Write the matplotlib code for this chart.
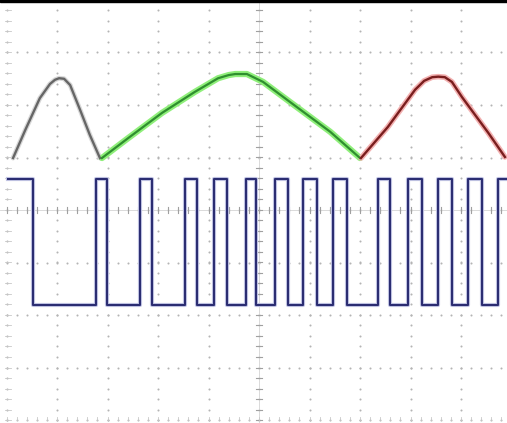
import matplotlib.pyplot as plt
import numpy as np

# oscilloscope screen, units = divisions
# rectified reference sine, three half-waves (time, level)
grey_t = [0.13, 0.37, 0.66, 0.86, 0.96, 1.04, 1.14, 1.26, 1.46, 1.65, 1.85]
grey_v = [0.99, 1.52, 2.13, 2.40, 2.48, 2.51, 2.50, 2.38, 1.90, 1.43, 0.99]

green_t = [1.89, 2.41, 3.08, 3.73, 4.19, 4.40, 4.53, 4.76, 5.08, 5.75, 6.41, 7.00]
green_v = [0.99, 1.37, 1.85, 2.25, 2.51, 2.57, 2.59, 2.59, 2.44, 1.96, 1.49, 0.99]

red_t = [7.02, 7.55, 8.09, 8.27, 8.43, 8.55, 8.68, 8.82, 9.02, 9.54, 9.87]
red_v = [0.99, 1.58, 2.29, 2.46, 2.53, 2.54, 2.53, 2.44, 2.15, 1.47, 1.01]

# PWM output: switching instants, starts high
pwm_edges = [0.52, 1.77, 1.99, 2.64, 2.88, 3.53, 3.77, 4.11, 4.37, 4.74,
             4.94, 5.32, 5.57, 5.87, 6.15, 6.47, 6.74, 7.36, 7.59, 7.95,
             8.23, 8.55, 8.82, 9.14, 9.42, 9.73]
pwm_start = 0.03
pwm_end = 9.95
pwm_high = 0.59
pwm_low = -1.81

fig = plt.figure(figsize=(5.07, 4.23), dpi=100)
ax = fig.add_axes([0, 0, 1, 1])
ax.set_xlim(-6.5 / 50.5, 500.5 / 50.5)
ax.set_ylim(-213 / 52.5, 210 / 52.5)
ax.axis('off')

# graticule
minor = np.arange(-4, 4.001, 0.2)
minor_t = np.arange(0, 10.001, 0.2)
for k in range(0, 10):
    ax.scatter(np.full(len(minor), k), minor, s=2.2, color='#b4b4b4', lw=0, zorder=1)
for k in range(-4, 5):
    ax.scatter(minor_t, np.full(len(minor_t), k), s=2.2, color='#b4b4b4', lw=0, zorder=1)
# centre axes with tick marks
ax.axvline(5, color='#d4d4d4', lw=0.6, zorder=1)
ax.axhline(0, color='#d4d4d4', lw=0.6, zorder=1)
for m in minor:
    ax.plot([4.94, 5.06], [m, m], color='#a0a0a0', lw=0.8, zorder=1)
    ax.plot([-0.02, 0.08], [m, m], color='#c8c8c8', lw=0.6, zorder=1)
for m in minor_t:
    ax.plot([m, m], [-0.06, 0.06], color='#a0a0a0', lw=0.8, zorder=1)
    ax.plot([m, m], [-4.0, -3.94], color='#c8c8c8', lw=0.6, zorder=1)

# top black strip
ax.axhspan(3.96, 4.1, color='black', zorder=5)

# reference waves
ax.plot(grey_t, grey_v, color='#d8d8d8', lw=3.5, solid_capstyle='round', zorder=2)
ax.plot(grey_t, grey_v, color='#666666', lw=1.7, zorder=3)
ax.plot(green_t, green_v, color='#8fef7a', lw=4.5, solid_capstyle='round', zorder=2)
ax.plot(green_t, green_v, color='#2f8f2f', lw=1.6, zorder=3)
ax.plot(red_t, red_v, color='#f2b0b0', lw=4.0, solid_capstyle='round', zorder=2)
ax.plot(red_t, red_v, color='#7a1e1e', lw=1.7, zorder=3)

# PWM trace
t = [pwm_start] + pwm_edges + [pwm_end]
lv = [pwm_high if i % 2 == 0 else pwm_low for i in range(len(t))]
lv[-1] = lv[-2]
ax.step(t, lv, where='post', color='#c4c7e6', lw=3.0, zorder=2)
ax.step(t, lv, where='post', color='#2b2d72', lw=1.5, zorder=3)

fig.savefig('out.png', dpi=100, facecolor='white')
